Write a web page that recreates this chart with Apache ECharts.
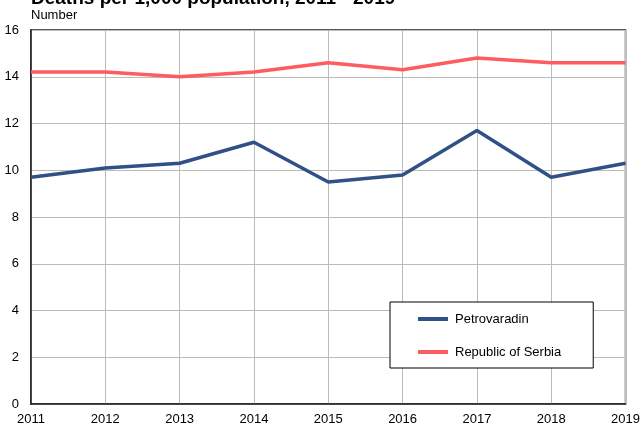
<!DOCTYPE html>
<html>
<head>
<meta charset="utf-8">
<script src="https://cdn.jsdelivr.net/npm/echarts@6/dist/echarts.min.js"></script>
<style>
  html, body { margin: 0; padding: 0; background: #fff; }
  #chart { width: 643px; height: 428px; }
</style>
</head>
<body>
<div id="chart"></div>
<script>
var years = ['2011', '2012', '2013', '2014', '2015', '2016', '2017', '2018', '2019'];
var petrovaradin = [9.7, 10.1, 10.3, 11.2, 9.5, 9.8, 11.7, 9.7, 10.3];
var serbia = [14.2, 14.2, 14.0, 14.2, 14.6, 14.3, 14.8, 14.6, 14.6];

var myChart = echarts.init(document.getElementById('chart'));
var chartOption = {
    animation: false,
    textStyle: { fontFamily: 'Liberation Sans, Arial, sans-serif' },
    title: [{
        text: 'Deaths per 1,000 population, 2011 - 2019',
        left: 26,
        top: -16,
        textStyle: { fontSize: 19, fontWeight: 'bold', color: '#000' }
    }, {
        text: 'Number',
        left: 26,
        top: 4,
        textStyle: { fontSize: 13, fontWeight: 'normal', color: '#000' }
    }],
    grid: {
        left: 31, right: 17, top: 30, bottom: 24,
        show: true, borderColor: '#222', borderWidth: 1.5
    },
    legend: {
        orient: 'vertical',
        left: 390,
        top: 302,
        backgroundColor: '#fff',
        borderColor: '#000',
        borderWidth: 1,
        padding: [10, 32, 9, 28],
        icon: 'rect',
        itemWidth: 30,
        itemHeight: 4,
        itemGap: 19,
        textStyle: { fontSize: 13, color: '#000', lineHeight: 14, padding: [0, 0, 0, 2] },
        data: ['Petrovaradin', 'Republic of Serbia']
    },
    xAxis: {
        type: 'category',
        boundaryGap: false,
        data: years,
        axisLine: { lineStyle: { color: '#222', width: 1.5 } },
        axisTick: { show: false },
        axisLabel: { fontSize: 13, color: '#000', margin: 9 },
        splitLine: { show: true, lineStyle: { color: '#bbb' } }
    },
    yAxis: {
        type: 'value',
        min: 0,
        max: 16,
        interval: 2,
        axisLine: { show: true, lineStyle: { color: '#222', width: 1.5 } },
        axisTick: { show: false },
        axisLabel: { fontSize: 13, color: '#000', margin: 12 },
        splitLine: { show: true, lineStyle: { color: '#bbb' } }
    },
    series: [{
        name: 'Petrovaradin',
        type: 'line',
        symbol: 'none',
        data: petrovaradin,
        itemStyle: { color: '#2f5185' },
        lineStyle: { color: '#2f5185', width: 3.5 }
    }, {
        name: 'Republic of Serbia',
        type: 'line',
        symbol: 'none',
        data: serbia,
        itemStyle: { color: '#fd5c60' },
        lineStyle: { color: '#fd5c60', width: 3.5 }
    }]
};
myChart.setOption(chartOption);
</script>
</body>
</html>
